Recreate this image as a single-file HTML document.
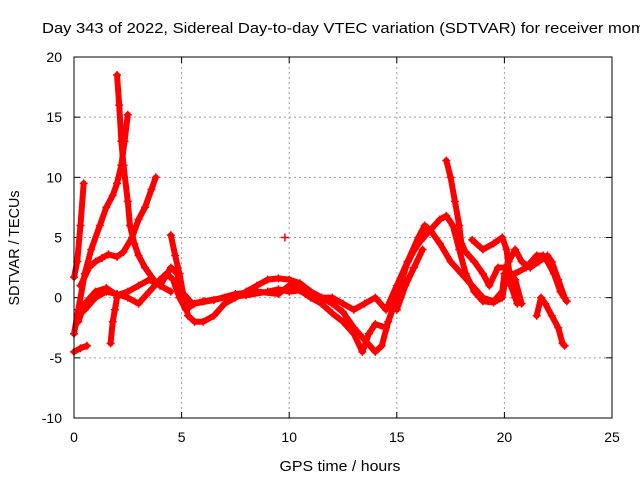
<!DOCTYPE html>
<html><head><meta charset="utf-8"><style>
body{margin:0;background:#fff;}
svg{display:block;font-family:"Liberation Sans",sans-serif;}
</style></head><body>
<svg id="c" width="640" height="480">
<text x="42" y="33" font-size="15" textLength="612" lengthAdjust="spacingAndGlyphs" fill="#000">Day 343 of 2022, Sidereal Day-to-day VTEC variation (SDTVAR) for receiver momo</text>
<g id="grid"></g>
<g id="ticks"></g>
<g id="marks"></g>
<rect x="74" y="57" width="538" height="361" fill="none" stroke="#000" stroke-width="1"/>
<text x="340" y="471" font-size="15" textLength="121" lengthAdjust="spacingAndGlyphs" text-anchor="middle">GPS time / hours</text>
<text transform="translate(19,248) rotate(-90)" font-size="15" textLength="115" lengthAdjust="spacingAndGlyphs" text-anchor="middle">SDTVAR / TECUs</text>
</svg>
<script>
const xTicks=[0,5,10,15,20,25];
const yTicks=[-10,-5,0,5,10,15,20];
const trackA=[[0,1.7],[0.15,3],[0.3,6],[0.45,9.5]];
const trackB=[[0,-3],[0.2,-1],[0.5,2],[0.8,4],[1.2,6],[1.5,7.5],[1.8,8.5],[2.0,9.5],[2.2,11],[2.35,13],[2.5,15.2]];
const trackC=[[2.0,18.5],[2.1,16],[2.2,13],[2.3,11],[2.5,8],[2.6,6],[2.8,4.5],[3.0,3.5],[3.3,2.5],[3.7,1.5],[4.0,1],[4.5,0.5]];
const trackD=[[0.3,1],[0.7,2.5],[1,3],[1.3,3.3],[1.6,3.6],[2,3.4],[2.3,3.8],[2.7,5],[3,6.5],[3.3,7.5],[3.6,9],[3.8,10]];
const trackE=[[4.5,5.2],[4.7,3.5],[4.9,2],[5.1,0],[5.3,-1.5],[5.6,-2],[6,-2],[6.5,-1.5],[7,-0.5],[7.5,0],[8,0.5],[8.5,1],[9,1.5],[9.5,1.6],[10,1.5],[10.5,1.2],[11,0.5],[11.5,0],[12,-0.5],[12.5,-1.2],[13,-2.5],[13.5,-3.5],[14,-4.5],[14.3,-4],[14.6,-2],[15,0],[15.4,2.5],[15.8,4],[16.1,4.7]];
const trackF=[[0.2,-2],[0.5,-0.5],[1,0.5],[1.5,0.8],[2,0.2],[2.5,0.5],[3,1],[3.5,1.5],[4,1],[4.5,2.5],[4.8,2],[5,0.5],[5.5,-0.5],[6,-0.3],[7,0],[8,0.2],[9,0.5],[9.5,0.7],[10,0.5],[10.5,0.6],[11,0],[11.5,-0.5],[12,-1.3],[12.5,-2],[13,-3],[13.4,-4.5],[13.7,-3],[14,-2.2],[14.5,-2.5],[15,0],[15.5,3],[16,4.5],[16.5,5.5],[17,6.5],[17.3,6.8],[17.6,6],[17.9,4],[18.2,2],[18.6,0.5],[19,-0.3],[19.5,-0.4],[19.9,0],[20.2,3],[20.5,4],[20.8,3],[21.2,2.5],[21.6,3],[22,3.5],[22.2,3],[22.5,1.5],[22.8,0]];
const trackG=[[0,-4.5],[0.3,-4.2],[0.6,-4]];
const trackH=[[1.7,-3.8],[1.8,-2],[1.9,-1],[2,0]];
const trackI=[[0.5,-1],[1,0],[1.5,0.5],[2,0.3],[2.5,0],[3,-0.5],[3.5,0.5],[4,1.5],[4.3,2],[4.6,1.5],[4.9,0],[5.2,-1],[5.6,-0.5],[6.5,-0.2],[7.5,0.3],[8.5,0.5],[9.5,0.3],[10,1],[10.5,0.8],[11,0.5],[11.5,0],[12,0],[12.5,-0.5],[13,-1],[13.5,-0.5],[14,0],[14.5,-1],[15,1],[15.5,3],[16,5],[16.3,6],[16.6,5.5],[17,4.5],[17.5,3],[18,2],[18.5,1],[19,0],[19.5,-0.3],[19.9,0.5],[20,2],[20.5,2],[21,2.5],[21.5,3.5],[21.8,3.5],[22,3],[22.3,2],[22.6,0.5],[22.9,-0.3]];
const trackJ=[[17.3,11.4],[17.5,10],[17.7,8],[17.9,6],[18,4.5],[18.2,3.8],[18.6,3],[19,2],[19.3,1],[19.7,2.5],[20,2.5],[20.5,1.5],[20.8,-0.5]];
const trackK=[[18.5,4.8],[19,4],[19.5,4.5],[19.9,5],[20.1,4],[20.3,1],[20.5,0],[20.6,-0.5]];
const trackL=[[21.5,-1.5],[21.7,0],[21.9,-0.5],[22.2,-1.5],[22.5,-2.5],[22.7,-3.8],[22.8,-4]];
const trackN=[[15,-1],[15.4,1],[15.8,2.5],[16.2,4]];
const trackM=[[9.8,5]];
const tracks=[trackA,trackB,trackC,trackD,trackE,trackF,trackG,trackH,trackI,trackJ,trackK,trackL,trackN,trackM];
const X0=74,X1=612,Y0=418,Y1=57;
const xs=v=>X0+(v-0)/25*(X1-X0);
const ys=v=>Y0-(v+10)/30*(Y0-Y1);
const NS="http://www.w3.org/2000/svg";
function mk(tag,parent){const e=document.createElementNS(NS,tag);parent.appendChild(e);return e;}
const grid=document.getElementById('grid'),ticks=document.getElementById('ticks'),marks=document.getElementById('marks');
xTicks.forEach(t=>{
 const x=xs(t);
 if(t>0&&t<25){const g=mk('line',grid);g.setAttribute('x1',x);g.setAttribute('x2',x);g.setAttribute('y1',Y1);g.setAttribute('y2',Y0);g.setAttribute('stroke','#a0a0a0');g.setAttribute('stroke-dasharray','2,3');
 
 }
 const tk=mk('text',ticks);tk.setAttribute('x',x);tk.setAttribute('y',Y0+24);tk.setAttribute('font-size','14');tk.setAttribute('text-anchor','middle');tk.textContent=t;
 
 
 [[Y0,Y0-6],[Y1,Y1+6]].forEach(p=>{const l=mk('line',ticks);l.setAttribute('x1',x);l.setAttribute('x2',x);l.setAttribute('y1',p[0]);l.setAttribute('y2',p[1]);l.setAttribute('stroke','#000');
 
 });
});
yTicks.forEach(t=>{
 const y=ys(t);
 if(t>-10&&t<20){const g=mk('line',grid);g.setAttribute('x1',X0);g.setAttribute('x2',X1);g.setAttribute('y1',y);g.setAttribute('y2',y);g.setAttribute('stroke','#a0a0a0');g.setAttribute('stroke-dasharray','2,3');
 
 }
 const tk=mk('text',ticks);tk.setAttribute('x',X0-12);tk.setAttribute('y',y+5);tk.setAttribute('font-size','14');tk.setAttribute('text-anchor','end');tk.textContent=t;
 
 
 [[X0,X0+6],[X1,X1-6]].forEach(p=>{const l=mk('line',ticks);l.setAttribute('y1',y);l.setAttribute('y2',y);l.setAttribute('x1',p[0]);l.setAttribute('x2',p[1]);l.setAttribute('stroke','#000');
 
 });
});
tracks.forEach(tr=>{
 if(tr.length>1){const pl=mk('polyline',marks);pl.setAttribute('points',tr.map(p=>xs(p[0])+','+ys(p[1])).join(' '));pl.setAttribute('fill','none');pl.setAttribute('stroke','#f00');pl.setAttribute('stroke-width','6');pl.setAttribute('stroke-linejoin','round');pl.setAttribute('stroke-linecap','round');
 
 }
 tr.forEach(p=>{const m=mk('path',marks);const x=xs(p[0]),y=ys(p[1]);m.setAttribute('d',`M${x-4},${y}H${x+4}M${x},${y-4}V${y+4}`);m.setAttribute('stroke','#f00');m.setAttribute('stroke-width','1.5');
 
 });
});
</script>
</body></html>
